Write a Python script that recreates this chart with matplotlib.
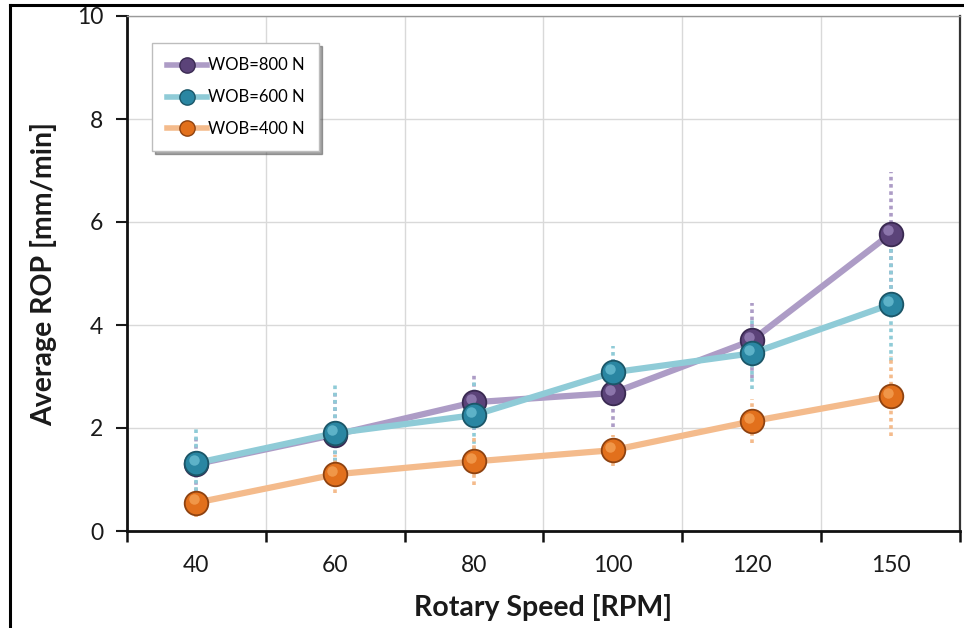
import matplotlib
matplotlib.use("Agg")
import matplotlib.pyplot as plt
import matplotlib.transforms as mtransforms
from matplotlib.lines import Line2D
import numpy as np

plt.rcParams['font.family'] = ['Lato', 'DejaVu Sans']

# Rotary speed categories
speeds = ["40", "60", "80", "100", "120", "150"]

# Average ROP [mm/min] per weight on bit
rop_800 = [1.30, 1.87, 2.50, 2.68, 3.70, 5.77]
rop_600 = [1.32, 1.90, 2.25, 3.08, 3.45, 4.40]
rop_400 = [0.55, 1.10, 1.35, 1.57, 2.13, 2.62]

# Scatter (± error) per series
err_800 = [0.55, 0.80, 0.53, 0.66, 0.73, 1.20]
err_600 = [0.68, 0.97, 0.70, 0.52, 0.70, 1.10]
err_400 = [0.28, 0.37, 0.45, 0.30, 0.43, 0.78]

series = [
    ("WOB=800 N", rop_800, err_800, "#ad9cc6", "#5b4379", "#3a2a52", "#9c86bd"),
    ("WOB=600 N", rop_600, err_600, "#8fcbd7", "#2a86a2", "#1b5668", "#6fc1d6"),
    ("WOB=400 N", rop_400, err_400, "#f4bb8c", "#e2701c", "#8e4210", "#f6a458"),
]

fig = plt.figure(figsize=(9.64, 6.28), dpi=100)
ax = fig.add_axes([127 / 964, 1 - 531 / 628, (960 - 127) / 964, (531 - 16) / 628])

x = np.arange(len(speeds))

# error bars first, dotted
for label, y, e, lc, mc, ec, hc in series:
    eb = ax.errorbar(x, y, yerr=e, fmt="none", ecolor=lc, elinewidth=2.6,
                     capsize=0, zorder=2)
    for coll in eb[2]:
        coll.set_linestyle((0, (1.0, 1.0)))

handles = []
for i, (label, y, e, lc, mc, ec, hc) in enumerate(series):
    z = 3 + i * 2
    ax.plot(x, y, color=lc, lw=4.5, solid_capstyle="round", zorder=z)
    ax.plot(x, y, linestyle="none", marker="o", ms=17, mfc=mc, mec=ec,
            mew=1.3, zorder=z + 0.5)
    # small highlight to give the markers a rounded look
    hl = mtransforms.offset_copy(ax.transData, fig=fig, x=-2.0, y=2.5, units="points")
    ax.plot(x, y, linestyle="none", marker="o", ms=7.5, mfc=hc, mec="none",
            alpha=0.75, transform=hl, zorder=z + 0.6)
    handles.append(Line2D([0], [0], color=lc, lw=4, marker="o", ms=11,
                          mfc=mc, mec=ec, mew=1.0))

ax.set_xlim(-0.5, len(speeds) - 0.5)
ax.set_ylim(0, 10)
ax.set_yticks([0, 2, 4, 6, 8, 10])
ax.set_xticks(np.arange(len(speeds) + 1) - 0.5)
ax.set_xticklabels([])
ax.set_xticks(x, minor=True)
ax.set_xticklabels(speeds, minor=True)
ax.tick_params(axis="x", which="minor", length=0, pad=17, labelsize=16.5, colors="#1a1a1a")
ax.tick_params(axis="x", which="major", length=8, width=1.8, direction="out", color="#111111")
ax.tick_params(axis="y", length=8, width=1.5, direction="out", pad=9, labelsize=16.5,
               colors="#1a1a1a")

ax.grid(True, which="major", color="#d9d9d9", lw=1.0)
ax.set_axisbelow(True)

for side in ("left", "bottom"):
    ax.spines[side].set_linewidth(2.0)
    ax.spines[side].set_color("#111111")
ax.spines["top"].set_color("#9a9a9a")
ax.spines["top"].set_linewidth(1.0)
ax.spines["right"].set_color("#333333")
ax.spines["right"].set_linewidth(1.6)

ax.set_xlabel("Rotary Speed [RPM]", fontsize=20.5, fontweight="bold", labelpad=13,
              color="#1a1a1a")
ax.set_ylabel("Average ROP [mm/min]", fontsize=20.5, fontweight="bold", labelpad=14,
              color="#1a1a1a")

leg = ax.legend(handles, [s[0] for s in series], loc="upper left",
                bbox_to_anchor=(17 / 833, 1 - 19 / 515), fontsize=12,
                frameon=True, fancybox=False, shadow=True, handlelength=2.4,
                handletextpad=0.1, labelspacing=0.95, borderpad=0.85,
                edgecolor="#bdbdbd")
leg.get_frame().set_linewidth(1.0)

# outer frame of the figure
fig.add_artist(Line2D([10 / 964, 10 / 964], [0, 1 - 5 / 628], color="black", lw=2.2,
                      transform=fig.transFigure))
fig.add_artist(Line2D([10 / 964, 1], [1 - 5 / 628, 1 - 5 / 628], color="black", lw=2.2,
                      transform=fig.transFigure))

fig.savefig("out.png", dpi=100)
